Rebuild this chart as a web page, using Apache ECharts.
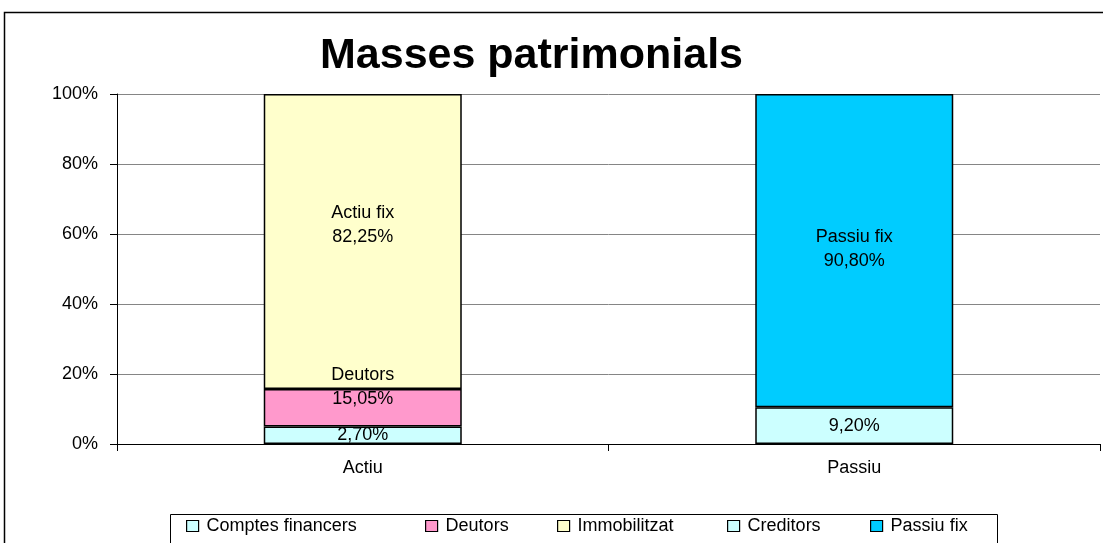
<!DOCTYPE html>
<html>
<head>
    <meta charset="utf-8">
    <title>Masses patrimonials</title>
    <script src="https://cdn.jsdelivr.net/npm/echarts@6/dist/echarts.min.js"></script>
</head>
<body style="margin:0;background:#fff">
<div id="main" style="width:1103px;height:543px;"></div>
<script type="text/javascript">
    // categories
    var categories = ['Actiu', 'Passiu']
    var seriesNames = ['Comptes financers', 'Deutors', 'Immobilitzat', 'Creditors', 'Passiu fix']
    // drawn heights (% of bar)
    var comptesFinancers = [5.0, '-']
    var deutors = [10.7, '-']
    var immobilitzat = [84.3, '-']
    var creditors = ['-', 10.5]
    var passiuFix = ['-', 89.5]
    // label texts as printed on the chart
    var labelTexts = ['2,70%', 'Deutors\n15,05%', 'Actiu fix\n82,25%', '9,20%', 'Passiu fix\n90,80%']
    var yTicks = [0, 20, 40, 60, 80, 100]

    var colors = ['#CCFFFF', '#FF99CC', '#FFFFCC', '#CCFFFF', '#00CCFF']
    var labelOffsets = [[0, 0], [0, -21], [0, -16], [0, 0], [0, -2]]
    var legendLefts = [186, 425, 557, 727, 870]
    var font = 'Liberation Sans, Arial, sans-serif'

    var allData = [comptesFinancers, deutors, immobilitzat, creditors, passiuFix]

    var series = []
    for (var i = 0; i < seriesNames.length; i++) {
        series.push({
            name: seriesNames[i],
            type: 'bar',
            stack: 'total',
            barWidth: 198,
            data: allData[i],
            itemStyle: {color: colors[i], borderColor: '#000', borderWidth: 1.5},
            label: {
                show: true,
                position: 'inside',
                offset: labelOffsets[i],
                formatter: (function (t) { return function () { return t } })(labelTexts[i]),
                color: '#000',
                fontFamily: font,
                fontSize: 18,
                lineHeight: 24
            }
        })
    }

    var legends = []
    for (var j = 0; j < seriesNames.length; j++) {
        legends.push({
            data: [seriesNames[j]],
            left: legendLefts[j],
            top: 517,
            padding: 0,
            icon: 'rect',
            itemWidth: 12,
            itemHeight: 11,
            itemGap: 4,
            itemStyle: {borderColor: '#000', borderWidth: 1.2},
            textStyle: {fontFamily: font, fontSize: 18, color: '#000', padding: [2, 0, 0, 3]}
        })
    }

    var myChart = echarts.init(document.getElementById('main'))
    var option = {
        animation: false,
        title: {
            text: 'Masses patrimonials',
            left: 315,
            top: 30,
            textStyle: {fontFamily: font, fontSize: 43, fontWeight: 'bold', color: '#000'}
        },
        legend: legends,
        grid: {left: 117, right: 3, top: 94, bottom: 99},
        xAxis: {
            type: 'category',
            data: categories,
            axisLine: {lineStyle: {color: '#000', width: 1}},
            axisTick: {show: true, length: 7, lineStyle: {color: '#000'}},
            axisLabel: {fontFamily: font, fontSize: 18, color: '#000', margin: 15}
        },
        yAxis: {
            type: 'value',
            min: yTicks[0],
            max: yTicks[yTicks.length - 1],
            interval: 20,
            axisLine: {show: true, lineStyle: {color: '#000', width: 1}},
            axisTick: {show: true, length: 7, lineStyle: {color: '#000'}},
            axisLabel: {formatter: '{value}%', fontFamily: font, fontSize: 18, color: '#000', margin: 19},
            splitLine: {lineStyle: {color: '#858585', width: 1}}
        },
        graphic: [
            {type: 'rect', shape: {x: 4.5, y: 12.5, width: 1120, height: 560}, style: {fill: null, stroke: '#000', lineWidth: 1.5}, silent: true, z: -1},
            {type: 'rect', shape: {x: 170.5, y: 514.5, width: 827, height: 40}, style: {fill: null, stroke: '#000', lineWidth: 1}, silent: true, z: -1}
        ],
        series: series
    }
    myChart.setOption(option)
</script>
</body>
</html>
